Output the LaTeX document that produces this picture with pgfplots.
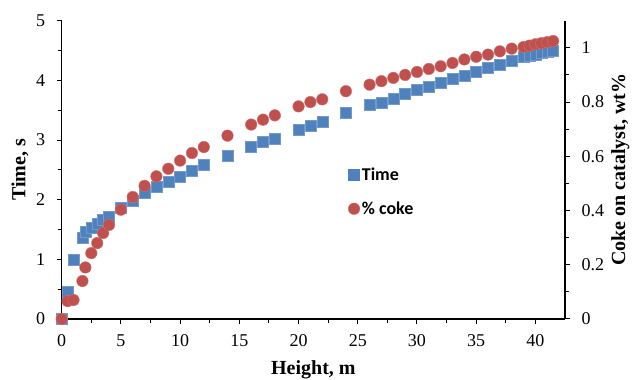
\documentclass[border=0pt]{standalone}
\usepackage{pgfplots}
\pgfplotsset{compat=1.18}
\usepackage{pgfplotstable}
\usepackage{fontspec}
\setmainfont{Liberation Serif}
\newfontfamily\carlito{Carlito}
\definecolor{xlblue}{HTML}{4F81BD}
\definecolor{xlred}{HTML}{C0504D}

\pgfplotstableread{
x y
0 0
0.5 0.46
1 1.0
1.75 1.36
2.05 1.46
2.5 1.53
3 1.60
3.5 1.67
4 1.72
5 1.86
6 1.98
7 2.11
8 2.21
9 2.30
10 2.39
11 2.49
12 2.58
14 2.73
16 2.89
17 2.97
18 3.03
20 3.18
21 3.24
22 3.31
24 3.45
26 3.59
27 3.63
28 3.70
29 3.77
30 3.84
31 3.90
32 3.96
33 4.02
34 4.08
35 4.14
36 4.21
37 4.26
38 4.33
39 4.39
39.5 4.41
40 4.43
40.5 4.46
41 4.48
41.5 4.50
}\timedata

\pgfplotstableread{
x y
0 0
0.5 0.066
1 0.07
1.75 0.14
2 0.19
2.5 0.243
3 0.28
3.5 0.317
4 0.347
5 0.403
6 0.45
7 0.491
8 0.526
9 0.554
10 0.584
11 0.612
12 0.634
14 0.676
16 0.717
17 0.735
18 0.751
20 0.784
21 0.80
22 0.81
24 0.84
26 0.864
27 0.877
28 0.889
29 0.90
30 0.911
31 0.922
32 0.932
33 0.944
34 0.957
35 0.967
36 0.975
37 0.987
38 0.997
39 1.003
39.5 1.008
40 1.013
40.5 1.017
41 1.021
41.5 1.025
}\cokedata

\begin{document}
\begin{tikzpicture}
\pgfplotsset{
  common/.style={
    scale only axis, width=503.3pt, height=298.3pt,
    xmin=0, xmax=42.5,
    clip=false,
    tick align=outside,
    major tick length=5pt, minor tick length=4pt,
    every tick/.style={black, line width=1pt},
    axis line style={black, line width=1.4pt},
    /pgf/number format/assume math mode=true,
    tick label style={font=\fontsize{18}{20}\selectfont},
    label style={font=\bfseries\fontsize{20}{22}\selectfont},
  }
}
\begin{axis}[common,
  ymin=0, ymax=5,
  axis y line*=left, axis x line*=bottom,
  xtick={0,5,...,40}, minor x tick num=1,
  ytick={0,1,...,5}, minor y tick num=1,
  xlabel={Height, m}, ylabel={Time, s},
  xlabel style={at={(axis description cs:0.5,-0.171)}, anchor=center},
  ylabel style={at={(axis description cs:-0.083,0.5)}, anchor=center},
  yticklabel style={xshift=-8pt},
  xticklabel style={yshift=-7pt},
]
\coordinate (ll) at (rel axis cs:0,0);
\coordinate (ur) at (rel axis cs:1,1);
\addplot[only marks, mark=square*, mark size=5.5pt, color=xlblue, mark options={draw=xlblue!80!white, line width=0.4pt}] table[x=x,y=y] {\timedata};
\end{axis}
\begin{axis}[common,
  ymin=0, ymax=1.1,
  axis y line*=right, axis x line=none,
  ytick={0,0.2,...,1.0}, minor y tick num=1,
  yticklabels={0,0.2,0.4,0.6,0.8,1},
  ylabel={Coke on catalyst, wt\%},
  ylabel style={at={(axis description cs:1.11,0.5)}, anchor=center},
  yticklabel style={xshift=8pt},
  legend style={draw=none, fill=none, at={(rel axis cs:0.569,0.515)}, anchor=north west,
    font=\carlito\bfseries\fontsize{18}{20}\selectfont, row sep=16pt,
    inner xsep=0pt, inner ysep=0pt,
    /tikz/every even column/.append style={column sep=0pt}},
  legend cell align=left,
  legend image code/.code={\draw[mark repeat=1,#1] plot coordinates {(3pt,0pt)};},
]
\addlegendimage{only marks, mark=square*, mark size=5.5pt, color=xlblue}
\addlegendentry{Time}
\addplot[only marks, mark=*, mark size=5.8pt, color=xlred, mark options={draw=xlred!80!white, line width=0.4pt}] table[x=x,y=y] {\cokedata};
\addlegendentry{\% coke}
\end{axis}
\pgfresetboundingbox
\path ([xshift=-61.7pt,yshift=-61pt]ll) rectangle ([xshift=67pt,yshift=20.7pt]ur);
\end{tikzpicture}
\end{document}
